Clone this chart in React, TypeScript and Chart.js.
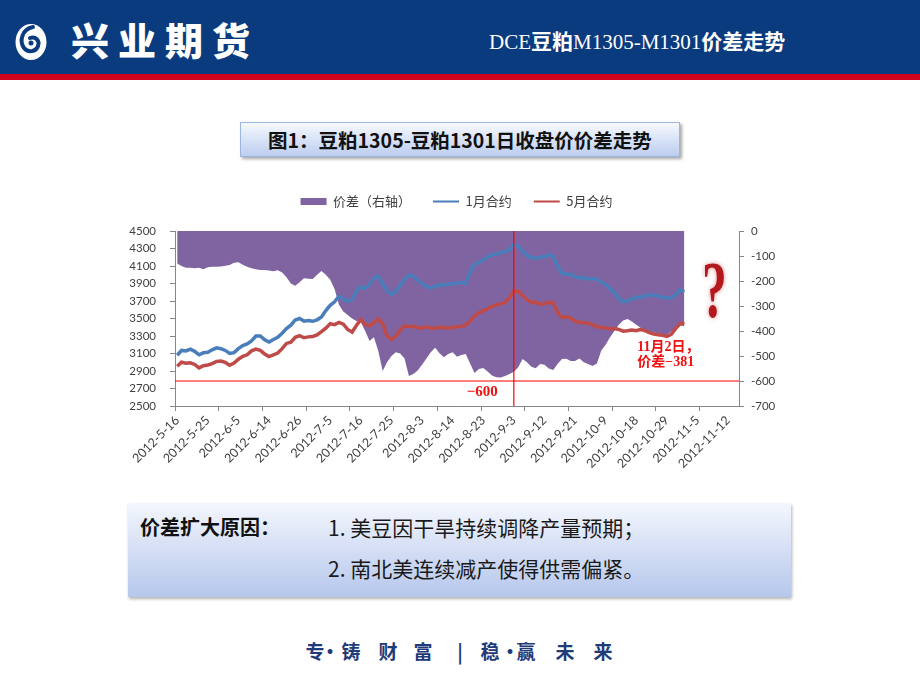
import React, { useEffect, useRef } from 'react';
import { Chart, registerables } from 'chart.js';

Chart.register(...registerables);

// ---- categories: trading days (plus calendar days after the last quote) ----
const MAY_DAYS = [16, 17, 18, 21, 22, 23, 24, 25, 28, 29, 30, 31];
const JUN_DAYS = [1, 4, 5, 6, 7, 8, 11, 12, 13, 14, 15, 18, 19, 20, 21, 25, 26, 27, 28, 29];
const JUL_DAYS = [2, 3, 4, 5, 6, 9, 10, 11, 12, 13, 16, 17, 18, 19, 20, 23, 24, 25, 26, 27, 30, 31];
const AUG_DAYS = [1, 2, 3, 6, 7, 8, 9, 10, 13, 14, 15, 16, 17, 20, 21, 22, 23, 24, 27, 28, 29, 30, 31];
const SEP_DAYS = [3, 4, 5, 6, 7, 10, 11, 12, 13, 14, 17, 18, 19, 20, 21, 24, 25, 26, 27, 28];
const OCT_DAYS = [8, 9, 10, 11, 12, 15, 16, 17, 18, 19, 22, 23, 24, 25, 26, 29, 30, 31];
const NOV_DAYS = [1, 2, 3, 4, 5, 6, 7, 8, 9, 10, 11, 12, 13, 14];

const DATES: string[] = [
  ...MAY_DAYS.map((d) => `2012-5-${d}`),
  ...JUN_DAYS.map((d) => `2012-6-${d}`),
  ...JUL_DAYS.map((d) => `2012-7-${d}`),
  ...AUG_DAYS.map((d) => `2012-8-${d}`),
  ...SEP_DAYS.map((d) => `2012-9-${d}`),
  ...OCT_DAYS.map((d) => `2012-10-${d}`),
  ...NOV_DAYS.map((d) => `2012-11-${d}`),
];

// ---- series ----
// 价差 (right axis)
const SPREAD = [
  -130, -140, -147, -147, -149, -147, -153, -145, -143, -143,
  -142, -139, -136, -127, -125, -135, -143, -149, -153, -156,
  -156, -158, -161, -157, -166, -185, -210, -219, -205, -189,
  -191, -192, -175, -160, -175, -195, -232, -295, -322, -336,
  -350, -360, -365, -400, -440, -425, -480, -560, -525, -500,
  -485, -490, -510, -580, -572, -558, -535, -510, -485, -467,
  -489, -505, -492, -485, -503, -496, -492, -530, -568, -552,
  -548, -562, -578, -585, -586, -580, -572, -563, -545, -512,
  -525, -543, -549, -532, -535, -550, -556, -532, -512, -511,
  -520, -520, -510, -525, -532, -540, -530, -478, -455, -425,
  -400, -375, -358, -352, -362, -375, -387, -400, -403, -406,
  -409, -412, -416, -402, -387, -378, -381,
];
// 1月合约
const JAN_CONTRACT = [
  3080, 3135, 3130, 3150, 3125, 3085, 3108, 3115, 3142, 3165,
  3155, 3135, 3100, 3110, 3155, 3190, 3210, 3245, 3300, 3300,
  3258, 3232, 3260, 3285, 3332, 3385, 3424, 3483, 3500, 3470,
  3478, 3468, 3485, 3518, 3590, 3650, 3690, 3755, 3725, 3695,
  3720, 3815, 3860, 3845, 3890, 3965, 3985, 3900, 3820, 3775,
  3805, 3880, 3950, 3995, 3985, 3940, 3895, 3865, 3850, 3866,
  3887, 3880, 3895, 3895, 3905, 3910, 3900, 4040, 4120, 4140,
  4170, 4205, 4225, 4238, 4250, 4268, 4285, 4345, 4330, 4268,
  4222, 4195, 4190, 4200, 4205, 4228, 4210, 4100, 4015, 4005,
  4005, 3978, 3962, 3967, 3952, 3958, 3945, 3915, 3888, 3845,
  3795, 3730, 3688, 3702, 3720, 3745, 3740, 3765, 3762, 3767,
  3758, 3740, 3732, 3742, 3770, 3825, 3808,
];
// 5月合约
const MAY_CONTRACT = [
  2955, 3000, 2990, 2993, 2975, 2935, 2960, 2969, 2985, 3010,
  3014, 2998, 2965, 2990, 3035, 3068, 3085, 3130, 3150, 3135,
  3095, 3065, 3085, 3105, 3155, 3215, 3230, 3285, 3305, 3280,
  3290, 3295, 3312, 3350, 3390, 3440, 3430, 3455, 3435, 3375,
  3345, 3420, 3490, 3430, 3415, 3450, 3495, 3440, 3300, 3260,
  3300, 3370, 3415, 3410, 3406, 3400, 3390, 3405, 3390, 3388,
  3400, 3398, 3390, 3400, 3406, 3410, 3425, 3470, 3530, 3565,
  3590, 3610, 3640, 3658, 3668, 3685, 3735, 3815, 3815, 3760,
  3720, 3680, 3690, 3660, 3670, 3685, 3680, 3570, 3510, 3520,
  3505, 3470, 3457, 3452, 3446, 3430, 3405, 3398, 3395, 3380,
  3385, 3375, 3355, 3360, 3368, 3360, 3375, 3362, 3338, 3322,
  3315, 3308, 3295, 3320, 3385, 3440, 3456,
];

const SERIES_NAMES = ['价差（右轴）', '1月合约', '5月合约'];
const LEFT_RANGE = [2500, 4500, 200];
const RIGHT_RANGE = [-700, 0, 100];
const LABEL_EVERY = 7;
const TICK_EVERY = 10;
const REF_SPREAD = -600;
const REF_DATE = '2012-9-3';

const PURPLE = '#8064a2';
const BLUE = '#4a7ebb';
const RED = '#be4b48';
const AXIS = '#868686';
const TEXT = '#404040';

const FOOTER = [
  ['专', 315], ['·', 330], ['铸', 351], ['财', 388], ['富', 423], ['|', 460],
  ['稳', 490], ['·', 510], ['赢', 526], ['未', 565], ['来', 603],
] as const;

const legendSpacer = {
  id: 'legendSpacer',
  beforeLayout(chart: any) {
    const lg = chart.legend;
    if (lg && !lg.__patched) {
      const f = lg.fit;
      lg.fit = function () {
        f.call(this);
        this.height += 13;
      };
      lg.__patched = true;
    }
  },
};

const annotations = {
  id: 'annotations',
  afterDatasetsDraw(chart: any) {
    const { ctx, chartArea, scales } = chart;
    const xs = scales.x;
    const y1 = scales.y1;
    const refIdx = DATES.indexOf(REF_DATE);
    const xr = xs.getPixelForValue(refIdx);
    const yr = y1.getPixelForValue(REF_SPREAD);
    ctx.save();
    ctx.strokeStyle = '#ff0000';
    ctx.lineWidth = 1.2;
    ctx.beginPath();
    ctx.moveTo(chartArea.left, yr);
    ctx.lineTo(chartArea.right, yr);
    ctx.moveTo(xr, chartArea.top);
    ctx.lineTo(xr, chartArea.bottom);
    ctx.stroke();

    const red = '#f01010';
    ctx.fillStyle = red;
    ctx.font = 'bold 15px "Liberation Serif", "Noto Sans CJK SC", serif';
    ctx.textAlign = 'right';
    ctx.textBaseline = 'middle';
    ctx.fillText(String(REF_SPREAD).replace('-', '−'), xr - 16, yr + 11);

    const li = SPREAD.length - 1;
    const xl = xs.getPixelForValue(li);
    const yl = y1.getPixelForValue(SPREAD[li]);
    const parts = DATES[li].split('-');
    ctx.font = 'bold 14px "Liberation Serif", "Noto Sans CJK SC", serif';
    ctx.textAlign = 'left';
    ctx.fillText(`${parts[1]}月${parts[2]}日，`, xl - 47, yl + 21);
    ctx.fillText(`价差${String(SPREAD[li]).replace('-', '−')}`, xl - 47, yl + 36);

    ctx.translate(xl + 30, yl - 9);
    ctx.scale(0.62, 1);
    ctx.font = 'bold 80px "Liberation Serif", serif';
    ctx.textAlign = 'center';
    ctx.textBaseline = 'alphabetic';
    ctx.shadowColor = 'rgba(200,60,60,0.6)';
    ctx.shadowBlur = 4;
    ctx.fillStyle = '#b3191c';
    ctx.fillText('?', 0, 0);
    ctx.restore();
  },
};

function ChartBox() {
  const ref = useRef<HTMLCanvasElement | null>(null);
  useEffect(() => {
    const canvas = ref.current!;
    Chart.defaults.font.family = 'Lato, "Noto Sans CJK SC", sans-serif';
    const legendItems = [
      { text: SERIES_NAMES[0], fillStyle: PURPLE, strokeStyle: PURPLE, lineWidth: 0, pointStyle: 'rect', hidden: false, datasetIndex: 0, fontColor: TEXT },
      { text: SERIES_NAMES[1], fillStyle: BLUE, strokeStyle: BLUE, lineWidth: 2, pointStyle: 'line', hidden: false, datasetIndex: 1, fontColor: TEXT },
      { text: SERIES_NAMES[2], fillStyle: RED, strokeStyle: RED, lineWidth: 2, pointStyle: 'line', hidden: false, datasetIndex: 2, fontColor: TEXT },
    ];
    const chart = new Chart(canvas, {
      type: 'line',
      data: {
        labels: DATES,
        datasets: [
          {
            label: SERIES_NAMES[0],
            data: SPREAD,
            yAxisID: 'y1',
            backgroundColor: PURPLE,
            borderColor: PURPLE,
            borderWidth: 0,
            pointRadius: 0,
            fill: 'end',
            tension: 0,
            order: 3,
          },
          {
            label: SERIES_NAMES[1],
            data: JAN_CONTRACT,
            yAxisID: 'y',
            borderColor: BLUE,
            borderWidth: 3.5,
            pointRadius: 0,
            fill: false,
            tension: 0,
            order: 2,
          },
          {
            label: SERIES_NAMES[2],
            data: MAY_CONTRACT,
            yAxisID: 'y',
            borderColor: RED,
            borderWidth: 3.5,
            pointRadius: 0,
            fill: false,
            tension: 0,
            order: 1,
          },
        ],
      },
      options: {
        responsive: false,
        animation: false,
        devicePixelRatio: 1,
        events: [],
        layout: { padding: 0 },
        plugins: {
          tooltip: { enabled: false },
          legend: {
            position: 'top',
            labels: {
              usePointStyle: true,
              pointStyleWidth: 26,
              boxHeight: 7,
              padding: 22,
              color: TEXT,
              font: { size: 13, family: '"Noto Sans CJK SC", Lato, sans-serif' },
              generateLabels: () => legendItems as any,
            },
          },
        },
        scales: {
          x: {
            type: 'category',
            offset: true,
            grid: {
              offset: true,
              drawOnChartArea: false,
              drawTicks: true,
              tickLength: 5,
              color: (c: any) => (c.index !== undefined && c.index % TICK_EVERY === 0 ? AXIS : 'rgba(0,0,0,0)'),
            },
            border: { color: AXIS, width: 1 },
            ticks: {
              autoSkip: false,
              maxRotation: 45,
              minRotation: 45,
              padding: 2,
              color: TEXT,
              font: { size: 12.5 },
              callback: (_v: any, i: number) => (i % LABEL_EVERY === 0 ? DATES[i] : ''),
            },
            afterFit: (s: any) => {
              s.height = 79;
            },
          },
          y: {
            position: 'left',
            min: LEFT_RANGE[0],
            max: LEFT_RANGE[1],
            ticks: { stepSize: LEFT_RANGE[2], color: TEXT, font: { size: 11.5 }, padding: 14, callback: (v: any) => String(v) },
            grid: { drawOnChartArea: false, tickLength: 5, color: AXIS },
            border: { color: AXIS },
            afterFit: (s: any) => {
              s.width = 55;
            },
          },
          y1: {
            position: 'right',
            min: RIGHT_RANGE[0],
            max: RIGHT_RANGE[1],
            ticks: { stepSize: RIGHT_RANGE[2], color: TEXT, font: { size: 11.5 }, padding: 7, callback: (v: any) => String(v) },
            grid: { drawOnChartArea: false, tickLength: 5, color: AXIS },
            border: { color: AXIS },
            afterFit: (s: any) => {
              s.width = 54;
            },
          },
        },
      } as any,
      plugins: [legendSpacer, annotations],
    });
    return () => chart.destroy();
  }, []);
  return <canvas ref={ref} width={673} height={312} style={{ display: 'block', width: 673, height: 312 }} />;
}

export default function App() {
  const cjk = '"Noto Sans CJK SC", sans-serif';
  return (
    <div style={{ position: 'absolute', left: 0, top: 0, width: 920, height: 690, background: '#fff', overflow: 'hidden', fontFamily: cjk }}>
      <div style={{ position: 'absolute', left: 0, top: 0, width: 920, height: 74, background: '#0a3b7e' }} />
      <div style={{ position: 'absolute', left: 0, top: 74, width: 920, height: 6, background: '#d2001f' }} />
      <svg style={{ position: 'absolute', left: 13, top: 22 }} width="36" height="40" viewBox="0 0 36 40">
        <ellipse cx="18" cy="20" rx="15.5" ry="18" fill="#fff" />
        <path d="M20 5 C9 7 6 19 11 26 C15 31 23 30 25 24 C27 18 22 14 17 16" stroke="#0a3b7e" strokeWidth="4" fill="none" strokeLinecap="round" />
        <circle cx="18" cy="21" r="2.5" fill="#0a3b7e" />
      </svg>
      <div style={{ position: 'absolute', left: 71, top: 14, fontSize: 38, fontWeight: 900, color: '#fff', letterSpacing: 9, lineHeight: '50px', whiteSpace: 'nowrap' }}>
        兴业期货
      </div>
      <div style={{ position: 'absolute', left: 489, top: 27, fontSize: 21, color: '#fff', lineHeight: '27px', whiteSpace: 'nowrap' }}>
        <span style={{ fontFamily: '"Liberation Serif", serif' }}>DCE</span>
        <span style={{ fontWeight: 700 }}>豆粕</span>
        <span style={{ fontFamily: '"Liberation Serif", serif' }}>M1305-M1301</span>
        <span style={{ fontWeight: 700 }}>价差走势</span>
      </div>

      <div
        style={{
          position: 'absolute', left: 240, top: 122, width: 440, height: 35, boxSizing: 'border-box',
          border: '1px solid #9db6e0', background: 'linear-gradient(#f6f9fe, #bccdef)',
          boxShadow: '2px 2px 3px rgba(0,0,0,0.35)', display: 'flex', alignItems: 'center', justifyContent: 'center',
          fontSize: 19.5, fontWeight: 700, color: '#111', whiteSpace: 'nowrap',
        }}
      >
        图1：豆粕1305-豆粕1301日收盘价价差走势
      </div>

      <div style={{ position: 'absolute', left: 120, top: 173 }}>
        <ChartBox />
      </div>

      <div
        style={{
          position: 'absolute', left: 128, top: 503, width: 663, height: 94,
          background: 'linear-gradient(#f3f6fd, #b6c7ec)', boxShadow: '1px 2px 3px rgba(0,0,0,0.3)',
        }}
      />
      <div style={{ position: 'absolute', left: 140, top: 512, fontSize: 20, fontWeight: 700, color: '#111', lineHeight: '30px', whiteSpace: 'nowrap' }}>
        价差扩大原因：
      </div>
      <div style={{ position: 'absolute', left: 328, top: 512, fontSize: 21, color: '#1a1a1a', lineHeight: '30px', whiteSpace: 'nowrap' }}>
        1. 美豆因干旱持续调降产量预期；
      </div>
      <div style={{ position: 'absolute', left: 328, top: 553, fontSize: 21, color: '#1a1a1a', lineHeight: '30px', whiteSpace: 'nowrap' }}>
        2. 南北美连续减产使得供需偏紧。
      </div>

      {FOOTER.map(([ch, x], i) => (
        <div
          key={i}
          style={{
            position: 'absolute', left: x, top: 638, transform: 'translateX(-50%)', fontSize: 19, fontWeight: 700,
            color: '#1f3b7a', lineHeight: '26px', whiteSpace: 'nowrap',
          }}
        >
          {ch}
        </div>
      ))}
    </div>
  );
}
